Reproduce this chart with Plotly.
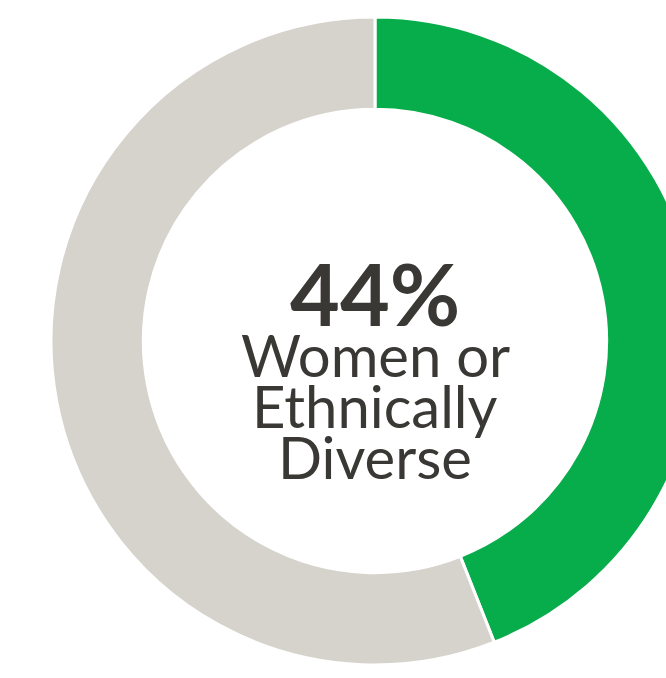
import plotly.graph_objects as go

labels = ["Women or Ethnically Diverse", "Other"]
values = [44, 56]
colors = ["#07ad4a", "#d6d3cd"]
headline = "44%"
caption_lines = ["Women or", "Ethnically", "Diverse"]

W, H = 710, 678

fig = go.Figure(
    data=[
        go.Pie(
            labels=labels,
            values=values,
            hole=0.715,
            sort=False,
            direction="clockwise",
            rotation=0,
            marker=dict(colors=colors, line=dict(color="white", width=3)),
            textinfo="none",
            hoverinfo="label+percent",
            domain=dict(x=[51 / W, 699 / W], y=[13 / H, 661 / H]),
        )
    ]
)

fig.add_annotation(
    text=f"<b>{headline}</b>", x=375 / W, y=1 - 292 / H, xref="paper", yref="paper",
    xanchor="center", yanchor="middle", showarrow=False,
    font=dict(family="Lato", size=86, color="#3a3835"),
)
# one annotation per line so the line spacing can be tighter than plotly's default
for i, line in enumerate(caption_lines):
    fig.add_annotation(
        text=line, x=375 / W, y=1 - (354 + 51 * i) / H,
        xref="paper", yref="paper", xanchor="center", yanchor="middle",
        showarrow=False, font=dict(family="Lato", size=58, color="#3a3835"),
    )

fig.update_layout(
    width=W, height=H,
    margin=dict(l=0, r=0, t=0, b=0),
    showlegend=False,
    paper_bgcolor="white",
)

fig.write_html(
    "out.html",
    config={"displayModeBar": False},
    post_script="document.body.style.margin='0';document.body.style.overflow='hidden';",
)
